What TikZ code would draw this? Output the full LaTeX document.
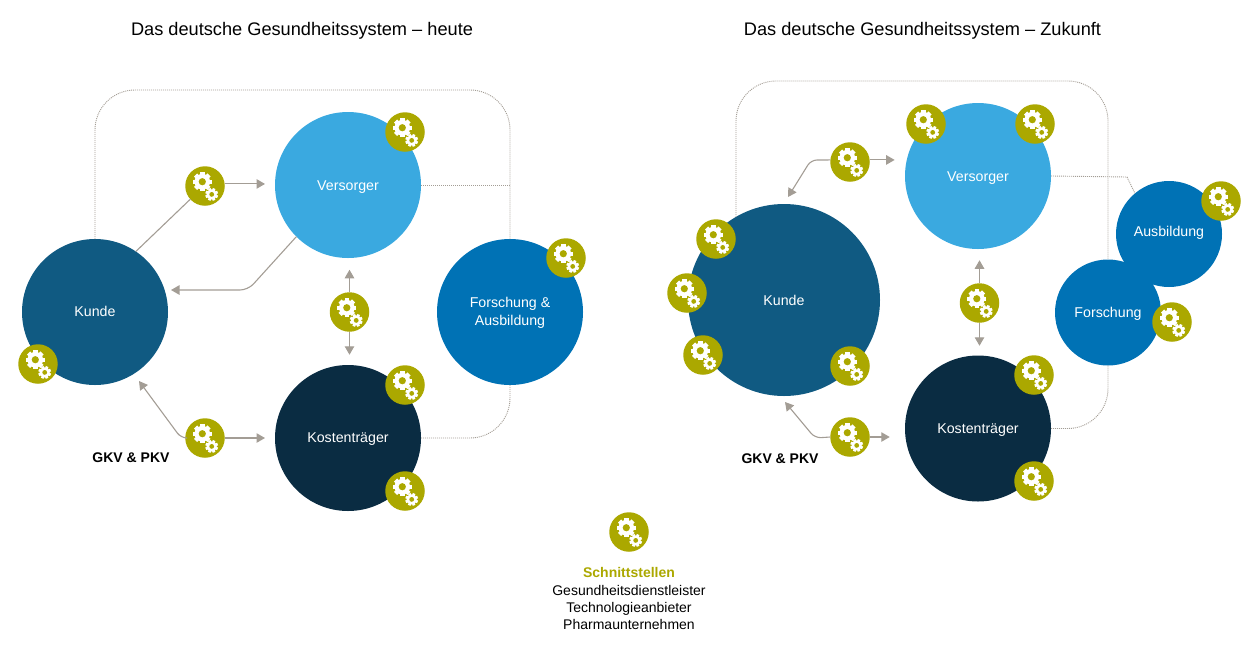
\documentclass[tikz,border=0pt]{standalone}
\usepackage{fontspec}
\setmainfont{Liberation Sans}
\usetikzlibrary{arrows.meta,calc}
\definecolor{olive}{HTML}{ABA800}
\definecolor{cKunde}{HTML}{105A82}
\definecolor{cVers}{HTML}{3AA9E0}
\definecolor{cFor}{HTML}{0072B5}
\definecolor{cKost}{HTML}{0A2C42}
\definecolor{cLine}{HTML}{A39D95}
\tikzset{
  big/.style={circle,inner sep=0pt,outer sep=0pt,minimum size=146pt,text=white,align=center,font=\fontsize{14.2}{18}\selectfont,text height=9.5pt,text depth=0pt},
  lower/.style={text height=11pt},
  twoline/.style={text height=,text depth=},
  kundebig/.style={big,minimum size=192pt},
  mid/.style={big,minimum size=106pt},
  gearc/.style={circle,inner sep=0pt,outer sep=0pt,minimum size=39.5pt,fill=olive},
  title/.style={font=\fontsize{18.2}{22}\selectfont,inner sep=0pt,anchor=base},
  lab/.style={font=\fontsize{14}{17}\selectfont,inner sep=0pt,anchor=base},
  labb/.style={font=\fontsize{14}{17}\selectfont\bfseries,inner sep=0pt,anchor=base},
  dotl/.style={draw=cLine,line width=0.9pt,dash pattern=on 1pt off 1pt},
  conn/.style={draw=cLine,line width=1.1pt},
  tip/.style={conn,-{Triangle[length=8.5pt,width=9.5pt,fill=cLine]},shorten >=0pt},
  pics/gears/.style={code={
    \begin{scope}[shift={(-2.7,-4.3)}]
      \foreach \a in {0,45,...,315}{\fill[white,rotate=\a] (-2.2,5.5) rectangle (2.2,9.5);}
      \fill[white] (0,0) circle (7.8);
      \fill[olive] (0,0) circle (3.6);
    \end{scope}
    \begin{scope}[shift={(6.7,8.4)}]
      \foreach \a in {22,67,...,337}{\fill[white,rotate=\a] (-1.4,3.6) rectangle (1.4,6.4);}
      \fill[white] (0,0) circle (5.1);
      \fill[olive] (0,0) circle (2.4);
    \end{scope}
  }}
}
\newcommand{\gearat}[3]{\node[gearc] (#1) at (#2,#3) {}; \pic at (#1) {gears};}
\begin{document}
\begin{tikzpicture}[x=1pt,y=-1pt]
\useasboundingbox (0,0) rectangle (1258,657);
% coordinates for routes
\coordinate (ltop) at (300,90);
\coordinate (rtop) at (900,81);
\coordinate (lbend) at (248,290);
\coordinate (lbend2) at (181,438);
\coordinate (rbend) at (811,160);
\coordinate (rbend2) at (815,438);
\coordinate (rknee) at (1127,177);
\coordinate (kl) at (171,290);
\coordinate (kla) at (139,381);
\coordinate (kr) at (788,197);
\coordinate (kra) at (785,402);
% titles
\node[title] (t1) at (302,35) {Das deutsche Gesundheitssystem – heute};
\node[title] (t2) at (922.5,35) {Das deutsche Gesundheitssystem – Zukunft};
% left nodes
\node[big,fill=cKunde] (k1) at (95,312) {Kunde};
\node[big,lower,fill=cVers] (v1) at (348,185) {Versorger};
\node[big,twoline,fill=cFor] (f1) at (510,312) {\rule{0pt}{12pt}Forschung \&\\Ausbildung};
\node[big,fill=cKost] (o1) at (348,438) {Kostenträger};
% right nodes
\node[kundebig,lower,fill=cKunde] (k2) at (784,300) {Kunde};
\node[big,lower,fill=cVers] (v2) at (978,176) {Versorger};
\node[big,fill=cKost] (o2) at (978,428.5) {Kostenträger};
\node[mid,fill=cFor,text depth=4pt] (a2) at (1169,234) {Ausbildung};
\node[mid,fill=cFor] (f2) at (1108,312.5) {Forschung};
% dotted left
\draw[dotl,rounded corners=40pt] (k1.north) |- (ltop) -| (f1.north);
\draw[dotl,rounded corners=40pt] (f1.south) |- (o1.east);
\draw[dotl] (v1.east) -- (v1.east -| f1.north);
% dotted right
\draw[dotl,rounded corners=40pt] (k2.120) |- (rtop) -| (f2.north);
\draw[dotl,rounded corners=40pt] (f2.south) |- (o2.east);
\draw[dotl] (v2.east) -- (rknee) -- (a2.130);
% gears left
\gearat{g1}{205}{186}
\gearat{g2}{405}{132}
\gearat{g3}{38}{364}
\gearat{g4}{349.5}{312}
\gearat{g5}{566}{258}
\gearat{g6}{205}{438}
\gearat{g7}{405}{385}
\gearat{g8}{405}{491}
% gears right
\gearat{h1}{926}{124}
\gearat{h2}{1035}{124}
\gearat{h3}{850}{162}
\gearat{h4}{1221}{201}
\gearat{h5}{716}{239}
\gearat{h6}{687}{293}
\gearat{h7}{703}{355}
\gearat{h8}{850}{366}
\gearat{h9}{979.5}{303}
\gearat{h10}{1034}{375}
\gearat{h11}{1172}{322}
\gearat{h12}{850}{437}
\gearat{h13}{1034}{481}
% connectors left
\draw[conn] (k1.56) -- (g1.222);
\draw[tip] (g1.6) -- ($(g1.6 -| v1.west)+(-10,0)$);
\draw[tip,rounded corners=8pt] (v1.225) -- (lbend) -- (kl);
\draw[tip] (g4.north) -- ($(g4.north)+(0,-22.5)$);
\draw[tip] (g4.south) -- ($(g4.south)+(0,23)$);
\draw[tip,rounded corners=6pt] (g6.west) -- (lbend2) -- (kla);
\draw[tip] (g6.east) -- ($(o1.west)+(-10,0)$);
% connectors right
\draw[tip,rounded corners=6pt] (h3.174) -- (rbend) -- (kr);
\draw[tip] (h3.6) -- ($(h3.6)+(25,0)$);
\draw[tip] (h9.north) -- ($(h9.north)+(0,-23)$);
\draw[tip] (h9.south) -- ($(h9.south)+(0,23)$);
\draw[tip,rounded corners=6pt] (h12.180) -- (rbend2) -- (kra);
\draw[tip] (h12.east) -- ($(h12.east)+(20,0)$);
% labels
\node[labb] (l1) at (131,462) {GKV \& PKV};
\node[labb] (l2) at (780,463) {GKV \& PKV};
% legend
\gearat{leg}{629}{532}
\node[labb,text=olive] (s0) at (629,577) {Schnittstellen};
\node[lab] (s1) at (629,595) {Gesundheitsdienstleister};
\node[lab] (s2) at (629,612) {Technologieanbieter};
\node[lab] (s3) at (629,629) {Pharmaunternehmen};
\end{tikzpicture}
\end{document}
